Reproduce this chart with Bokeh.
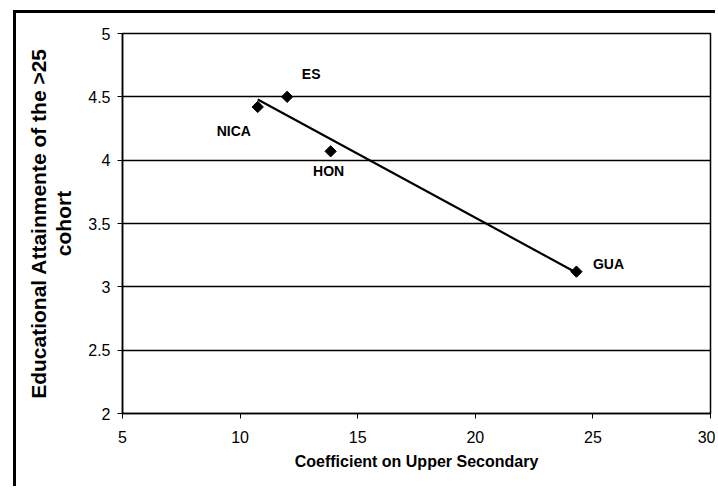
import numpy as np
from bokeh.plotting import figure
from bokeh.models import ColumnDataSource, Range1d, FixedTicker, CustomJSTickFormatter
from bokeh.core.properties import value
from bokeh.embed import file_html
from bokeh.resources import INLINE

# ---- data ----
countries = ["NICA", "ES", "HON", "GUA"]
coef_upper_secondary = [10.75, 12.0, 13.85, 24.3]
attainment_over25 = [4.42, 4.5, 4.07, 3.12]
x_ticks = [5, 10, 15, 20, 25, 30]
y_ticks = [2, 2.5, 3, 3.5, 4, 4.5, 5]

# ---- styling (label placement in screen pixels) ----
label_dx = [-24, 24, -2, 32]
label_dy = [24, -23, 20, -8]
FONT = "Liberation Sans"

# linear trend line through the points
slope, intercept = np.polyfit(coef_upper_secondary, attainment_over25, 1)
trend_x = [min(coef_upper_secondary), max(coef_upper_secondary)]
trend_y = [slope * v + intercept for v in trend_x]

src = ColumnDataSource(dict(x=coef_upper_secondary, y=attainment_over25,
                            name=countries, dx=label_dx, dy=label_dy))

p = figure(width=702, height=476, output_backend="svg", toolbar_location=None,
           x_range=Range1d(5, 30), y_range=Range1d(2, 5),
           min_border_left=106, min_border_right=8, min_border_top=20,
           min_border_bottom=76)
# outer chart-area frame: left and top edges
p.styles = {"border-left": "3px solid black", "border-top": "3px solid black",
            "margin-left": "13px", "margin-top": "10px"}

p.background_fill_color = "white"
p.border_fill_color = "white"
p.outline_line_color = "black"
p.outline_line_width = 1.5

p.xgrid.visible = False
p.ygrid.grid_line_color = "black"
p.ygrid.grid_line_width = 1.5
p.ygrid.ticker = FixedTicker(ticks=y_ticks)

p.xaxis.ticker = FixedTicker(ticks=x_ticks)
p.yaxis.ticker = FixedTicker(ticks=y_ticks)
p.xaxis.formatter = CustomJSTickFormatter(code="return String(tick)")
p.yaxis.formatter = CustomJSTickFormatter(code="return String(tick)")

for ax in (p.xaxis[0], p.yaxis[0]):
    ax.axis_line_color = "black"
    ax.axis_line_width = 1.5
    ax.major_tick_line_color = "black"
    ax.major_tick_line_width = 1
    ax.minor_tick_line_color = None
    ax.major_label_text_font = FONT
    ax.major_label_text_font_size = "16px"
    ax.major_label_text_color = "black"
    ax.axis_label_text_font = FONT
    ax.axis_label_text_font_style = "bold"
    ax.axis_label_text_color = "black"

p.xaxis.major_tick_out = 5
p.xaxis.major_tick_in = 0
p.xaxis.major_label_standoff = 12
p.xaxis.axis_label = "Coefficient on Upper Secondary"
p.xaxis.axis_label_text_font_size = "16px"
p.xaxis.axis_label_standoff = 7

p.yaxis.major_tick_out = 5
p.yaxis.major_tick_in = 3
p.yaxis.major_label_standoff = 7
p.yaxis.axis_label = "Educational Attainmente of the >25\ncohort"
p.yaxis.axis_label_text_font_size = "21px"
p.yaxis.axis_label_text_line_height = 1.1
p.yaxis.axis_label_standoff = 10

p.line(trend_x, trend_y, line_color="black", line_width=2.2)
p.scatter("x", "y", source=src, marker="square", size=8, angle=np.pi / 4,
          fill_color="black", line_color="black")
p.text("x", "y", text="name", source=src, x_offset="dx", y_offset="dy",
       text_font=value(FONT), text_font_style="bold", text_font_size="14px",
       text_align="center", text_baseline="middle", text_color="black")

open("out.html", "w").write(file_html(p, INLINE))
